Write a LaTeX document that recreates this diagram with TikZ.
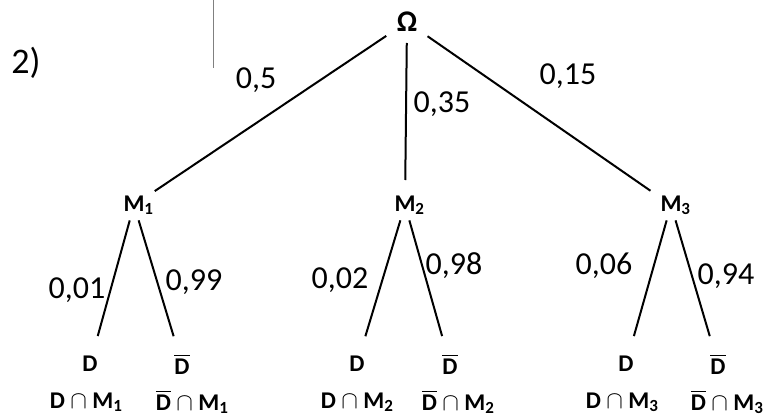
\documentclass[tikz,border=0pt]{standalone}
\usepackage{fontspec}
\usepackage{amsmath}
\setmainfont{Carlito}
\newcommand{\Dbar}{$\overline{\text{D}}$}
\newcommand{\lowsub}[1]{\raisebox{-3pt}{\fontsize{17}{17}\selectfont #1}}

\begin{document}
\begin{tikzpicture}[x=1pt, y=-1pt, font=\fontsize{24}{27}\bfseries\selectfont]
\tikzset{
  prob/.style={font=\fontsize{32}{34}\selectfont},
  branch/.style={line width=2pt, shorten <=25pt, shorten >=25pt},
  twig/.style={line width=2pt, shorten <=16pt, shorten >=29pt}
}
\useasboundingbox (0,0) rectangle (771,417);
\def\yM{205}
\def\yD{364}
\def\yI{402}

% Margin of the sheet
\draw[gray, line width=0.8pt] (213,0) -- (213,68);

% Question number
\node[font=\fontsize{36}{38}\selectfont] (task) at (26,63) {2)};

% Root
\node[font=\fontsize{30}{32}\bfseries\selectfont] (O) at (407,22) {Ω};

% First level
\node (M1) at (134,\yM) {M\rlap{\lowsub{1}}};
\node (M2) at (405,\yM) {M\rlap{\lowsub{2}}};
\node (M3) at (671,\yM) {M\rlap{\lowsub{3}}};

\draw[branch] (O.center) -- (M1.center);
\draw[branch, shorten <=21pt] (O.center) -- (M2.center);
\draw[branch] (O.center) -- (M3.center);

\node[prob] (p1) at (256,80) {0,5};
\node[prob] (p2) at (442,104) {0,35};
\node[prob] (p3) at (568,76) {0,15};

% Second level
\node (D1) at (90,\yD) {D};
\node (N1) at (182,\yD) {\Dbar};
\node (D2) at (357,\yD) {D};
\node (N2) at (450,\yD) {\Dbar};
\node (D3) at (626,\yD) {D};
\node (N3) at (718,\yD) {\Dbar};

\draw[twig] (M1.center) -- (D1.center);
\draw[twig] (M1.center) -- (N1.center);
\draw[twig] (M2.center) -- (D2.center);
\draw[twig] (M2.center) -- (N2.center);
\draw[twig] (M3.center) -- (D3.center);
\draw[twig] (M3.center) -- (N3.center);

\node[prob] (q11) at (77,290) {0,01};
\node[prob] (q12) at (194,282) {0,99};
\node[prob] (q21) at (340,280) {0,02};
\node[prob] (q22) at (454,266) {0,98};
\node[prob] (q31) at (604,266) {0,06};
\node[prob] (q32) at (726,276) {0,94};

% Intersections
\node (I1) at (86,\yI) {D $\cap$ M\lowsub{1}};
\node (J1) at (192,\yI) {\Dbar\ $\cap$ M\lowsub{1}};
\node (I2) at (357,\yI) {D $\cap$ M\lowsub{2}};
\node (J2) at (458,\yI) {\Dbar\ $\cap$ M\lowsub{2}};
\node (I3) at (622,\yI) {D $\cap$ M\lowsub{3}};
\node (J3) at (727,\yI) {\Dbar\ $\cap$ M\lowsub{3}};

\end{tikzpicture}
\end{document}
